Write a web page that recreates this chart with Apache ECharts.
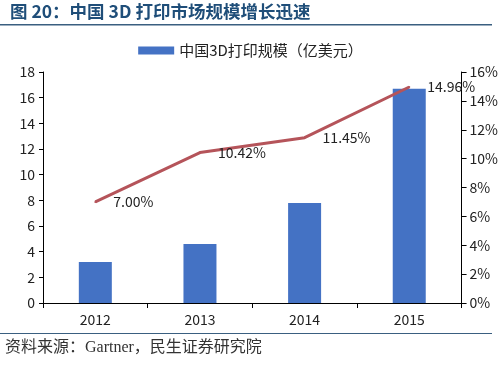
<!DOCTYPE html>
<html><head><meta charset="utf-8">
<script src="https://cdn.jsdelivr.net/npm/echarts@6/dist/echarts.min.js"></script>
<style>html,body{margin:0;padding:0;background:#fff}#c{width:501px;height:369px}</style>
</head><body><div id="c"></div>
<script>
var categories = ['2012', '2013', '2014', '2015'];
var marketSize = [3.2, 4.6, 7.8, 16.7];
var growthRate = [7.00, 10.42, 11.45, 14.96];
var leftTicks = [0, 18, 2];
var rightTicks = [0, 16, 2];

var chart = echarts.init(document.getElementById('c'));
chart.setOption({
  animation: false,
  textStyle: { fontFamily: '"Noto Sans CJK SC", "Open Sans", sans-serif' },
  graphic: [
    { type: 'text', left: 10, top: 3, style: { text: '图 20：中国 3D 打印市场规模增长迅速', fill: '#1f4e79', font: 'bold 17.5px "Noto Sans CJK SC"' } },
    { type: 'rect', shape: { x: 0, y: 24, width: 492, height: 1.5 }, style: { fill: '#3a5f80' } },
    { type: 'rect', shape: { x: 0, y: 333, width: 492, height: 1 }, style: { fill: '#3a5f80' } },
    { type: 'text', left: 5, top: 340, style: { text: '资料来源：Gartner，民生证券研究院', fill: '#333', font: '16px "Liberation Serif", "Noto Sans CJK SC"' } }
  ],
  legend: {
    top: 38, left: 'center',
    itemWidth: 36, itemHeight: 8,
    textStyle: { fontSize: 15, color: '#222' },
    data: [{ name: '中国3D打印规模（亿美元）', icon: 'rect' }]
  },
  grid: { left: 43, right: 37, top: 72, bottom: 66 },
  xAxis: {
    type: 'category', data: categories,
    axisLine: { lineStyle: { color: '#000' } },
    axisTick: { show: true, length: 5, lineStyle: { color: '#000' } },
    axisLabel: { color: '#222', fontSize: 14, margin: 10 }
  },
  yAxis: [
    { type: 'value', min: leftTicks[0], max: leftTicks[1], interval: leftTicks[2],
      axisLine: { show: true, lineStyle: { color: '#000' } },
      axisTick: { show: true, length: 4, lineStyle: { color: '#000' } },
      splitLine: { show: false },
      axisLabel: { color: '#222', fontSize: 14, margin: 8 } },
    { type: 'value', min: rightTicks[0], max: rightTicks[1], interval: rightTicks[2],
      axisLine: { show: true, lineStyle: { color: '#000' } },
      axisTick: { show: true, length: 5, lineStyle: { color: '#000' } },
      splitLine: { show: false },
      axisLabel: { color: '#222', fontSize: 14, margin: 8, formatter: '{value}%' } }
  ],
  series: [
    { name: '中国3D打印规模（亿美元）', type: 'bar', data: marketSize, barWidth: 33,
      itemStyle: { color: '#4472c4' } },
    { name: '增速', type: 'line', yAxisIndex: 1, data: growthRate,
      symbol: 'circle', symbolSize: 2, showSymbol: true,
      itemStyle: { color: '#b5545a' },
      lineStyle: { color: '#b5545a', width: 3 },
      label: { show: true, position: 'right', distance: 17, color: '#222', fontSize: 14,
        formatter: function (p) { return Number(p.value).toFixed(2) + '%'; } } }
  ]
});
</script></body></html>
